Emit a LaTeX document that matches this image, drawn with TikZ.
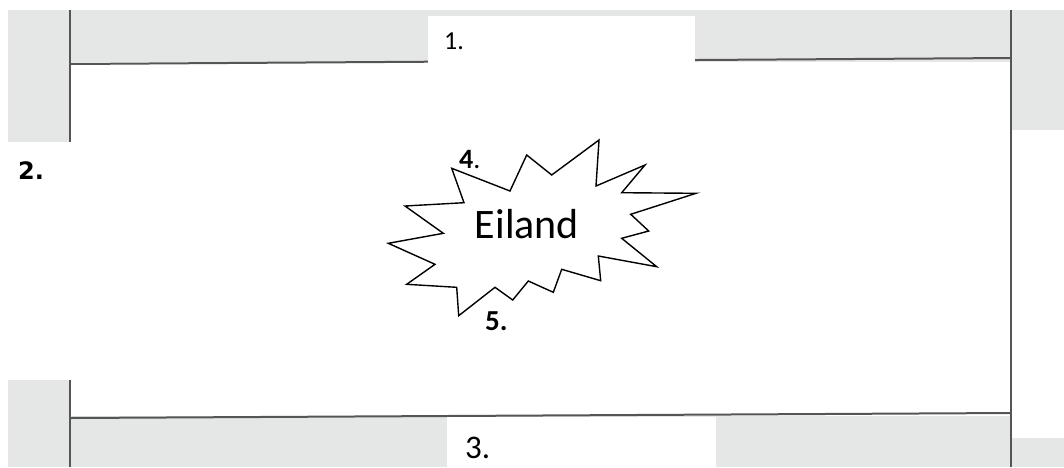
\documentclass[tikz,border=0pt]{standalone}
\usepackage{fontspec}
\setmainfont{Carlito}
\newfontfamily\dejavu{DejaVu Sans}
\definecolor{scan}{RGB}{229,231,231}
\definecolor{rule}{RGB}{85,85,85}
\begin{document}
\begin{tikzpicture}[x=1pt,y=-1pt,
  band/.style={fill=scan,draw=none},
  wall/.style={draw=rule,line width=2pt},
  labelbox/.style={fill=white,draw=none},
  lbl/.style={inner sep=0pt,anchor=base west,text=black},
  burst/.style={draw=black,line width=1.4pt,line join=miter,fill=white}]
\useasboundingbox (0,0) rectangle (1064,467);
\fill[white] (0,0) rectangle (1064,467);
% grey scanned bands
\path[band] (8,10) rectangle (70,142);
\path[band] (70,10) rectangle (1011,62);
\path[band] (1011,10) rectangle (1064,130);
\path[band] (8,380) rectangle (70,467);
\path[band] (70,416) rectangle (1011,467);
\path[band] (1011,438) rectangle (1064,467);
% walls
\coordinate (tl) at (70,64);
\coordinate (tr) at (1011,58);
\coordinate (bl) at (70,418);
\coordinate (br) at (1011,413);
\draw[wall] (70,10) -- (70,142);
\draw[wall] (70,380) -- (70,467);
\draw[wall] (1011,10) -- (1011,467);
\draw[wall] (tl) -- (tr);
\draw[wall] (bl) -- (br);
% white label boxes
\path[labelbox] (428,16) rectangle (695,64);
\path[labelbox] (447,417) rectangle (716,467);
\node[lbl] (l1) at (444,49) {\fontsize{26}{30}\selectfont 1.};
\node[lbl] (l3) at (465,458) {\fontsize{33}{38}\selectfont 3.};
\node[lbl] (l2) at (18,179) {\dejavu\bfseries\fontsize{24}{28}\selectfont 2.};
% starburst island
\draw[burst] (451.7,168.3) -- (510,191) -- (526.7,155) -- (551.7,175) -- (599,140)
  -- (596,186) -- (645,165) -- (621.7,192.7) -- (696,193.3) -- (630.7,214.3)
  -- (648.7,231) -- (621.7,238.3) -- (656.7,266.7) -- (598.3,256) -- (600.7,280.7)
  -- (561.7,269.3) -- (553.3,292.3) -- (528.3,281) -- (512.7,300) -- (495,287.3)
  -- (458.7,315.7) -- (456.7,287.3) -- (406.7,284.3) -- (435,264.3) -- (388.3,243.3)
  -- (443.3,233.3) -- (405,206) -- (464,202.7) -- cycle;
\node[inner sep=0pt] (eiland) at (527,224) {\fontsize{42}{50}\selectfont Eiland};
\node[lbl] (l4) at (459,168) {\fontsize{28}{32}\selectfont\textbf{4}.};
\node[lbl] (l5) at (485,330) {\fontsize{29}{34}\selectfont\textbf{5.}};
\end{tikzpicture}
\end{document}
